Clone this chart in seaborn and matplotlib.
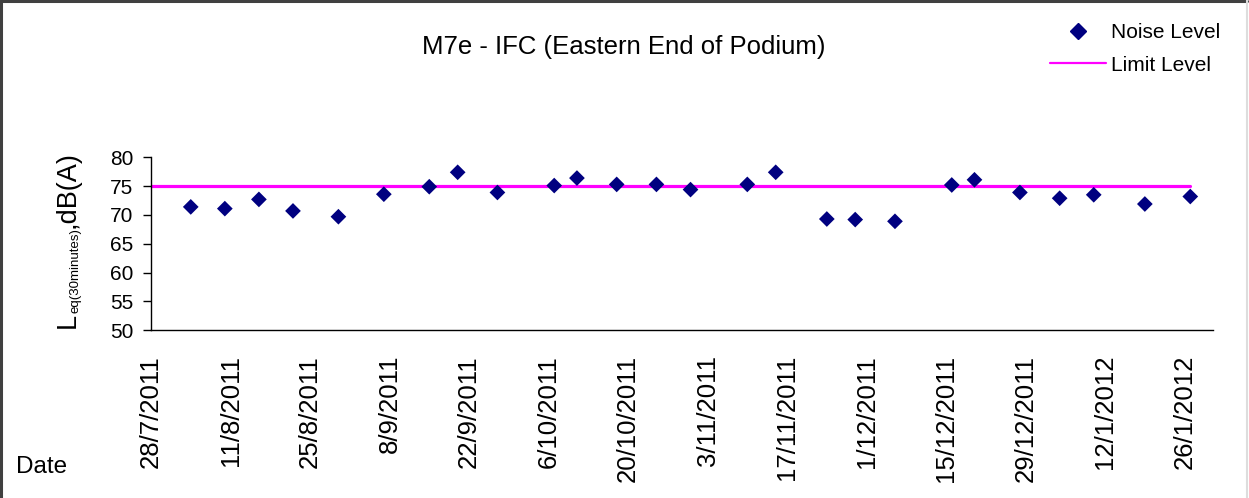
import pandas as pd
import seaborn as sns
import matplotlib.pyplot as plt
import matplotlib.dates as mdates
from matplotlib.lines import Line2D

# measured noise levels
dates = ["4/8/2011", "10/8/2011", "16/8/2011", "22/8/2011", "30/8/2011", "7/9/2011",
         "15/9/2011", "20/9/2011", "27/9/2011", "7/10/2011", "11/10/2011", "18/10/2011",
         "25/10/2011", "31/10/2011", "10/11/2011", "15/11/2011", "24/11/2011", "29/11/2011",
         "6/12/2011", "16/12/2011", "20/12/2011", "28/12/2011", "4/1/2012", "10/1/2012",
         "19/1/2012", "27/1/2012"]
noise_level = [71.4, 71.1, 72.7, 70.7, 69.7, 73.6,
               74.9, 77.4, 73.9, 75.1, 76.4, 75.3,
               75.3, 74.4, 75.3, 77.4, 69.3, 69.2,
               68.9, 75.2, 76.1, 73.9, 72.9, 73.5,
               71.9, 73.2]

# limit level line
limit_dates = ["28/7/2011", "27/1/2012"]
limit_level = [75, 75]

# x axis ticks every two weeks
tick_dates = ["28/7/2011", "11/8/2011", "25/8/2011", "8/9/2011", "22/9/2011", "6/10/2011",
              "20/10/2011", "3/11/2011", "17/11/2011", "1/12/2011", "15/12/2011",
              "29/12/2011", "12/1/2012", "26/1/2012"]
x_end = "31/1/2012"
y_ticks = [50, 55, 60, 65, 70, 75, 80]

df = pd.DataFrame({"date": pd.to_datetime(dates, dayfirst=True), "level": noise_level})
lim = pd.DataFrame({"date": pd.to_datetime(limit_dates, dayfirst=True), "level": limit_level})

sns.set_style("white")
plt.rcParams["font.family"] = ["Liberation Sans", "DejaVu Sans"]
plt.rcParams["text.color"] = "black"
plt.rcParams["xtick.labelcolor"] = "black"
plt.rcParams["ytick.labelcolor"] = "black"

fig = plt.figure(figsize=(12.49, 4.98), dpi=100)
ax = fig.add_axes([151 / 1249, 1 - 330.3 / 498, 1062 / 1249, 173 / 498])

sns.lineplot(data=lim, x="date", y="level", color="#FF00FF", linewidth=2.3, ax=ax)
sns.scatterplot(data=df, x="date", y="level", marker="D", s=64, color="#000080",
                edgecolor="none", ax=ax, zorder=3)

ax.set_xlim(pd.to_datetime(tick_dates[0], dayfirst=True), pd.to_datetime(x_end, dayfirst=True))
ax.set_ylim(50, 80)
ax.set_yticks(y_ticks)
tick_pos = pd.to_datetime(tick_dates, dayfirst=True)
ax.set_xticks(mdates.date2num(tick_pos))
ax.set_xticklabels(tick_dates, rotation=90, fontsize=18.5)
ax.tick_params(axis="x", direction="inout", length=11.5, width=1, color="#808080", pad=12,
               labelcolor="black")
ax.tick_params(axis="y", direction="out", length=5.8, width=1, color="black", pad=7,
               labelsize=15, left=True, labelcolor="black")
ax.set_xlabel("")
ax.set_ylabel("")
for s in ["top", "right"]:
    ax.spines[s].set_visible(False)
for s in ["left", "bottom"]:
    ax.spines[s].set_color("black")
    ax.spines[s].set_linewidth(1)

fig.text(624 / 1249, 1 - 47 / 498, "M7e - IFC (Eastern End of Podium)", fontsize=18.5,
         ha="center", va="center")
fig.text(16 / 1249, 1 - 473 / 498, "Date", fontsize=17.5, ha="left", va="baseline")

# y label built from pieces so the subscript can be small
renderer = fig.canvas.get_renderer()
x0, y0 = 75 / 1249, 1 - 328 / 498
pieces = [("L", 19.5, 0), ("eq(30minutes)", 9.5, 3), (",dB(A)", 19.5, 0)]
for txt, size, shift in pieces:
    t = fig.text(x0 + shift / 1249, y0, txt, fontsize=size, rotation=90,
                 ha="left", va="baseline", rotation_mode="anchor")
    bb = t.get_window_extent(renderer)
    y0 += bb.height / 498

handles = [Line2D([], [], marker="D", linestyle="none", color="#000080", markersize=7.8),
           Line2D([], [], color="#FF00FF", linewidth=1.6)]
fig.legend(handles, ["Noise Level", "Limit Level"], loc="upper left",
           bbox_to_anchor=(1050 / 1249, 1 - 23 / 498), frameon=False, fontsize=15,
           handlelength=2.7, handletextpad=0.25, labelspacing=0.65, borderpad=0,
           borderaxespad=0)

fig.add_artist(Line2D([0.001, 0.001], [0, 0.998], transform=fig.transFigure,
                      color="#404040", linewidth=2.2))
fig.add_artist(Line2D([0, 0.998], [0.997, 0.997], transform=fig.transFigure,
                      color="#404040", linewidth=2.2))
fig.add_artist(Line2D([0.9985, 0.9985], [0, 1], transform=fig.transFigure,
                      color="#dddddd", linewidth=1.5))

plt.savefig("out.png", dpi=100)
